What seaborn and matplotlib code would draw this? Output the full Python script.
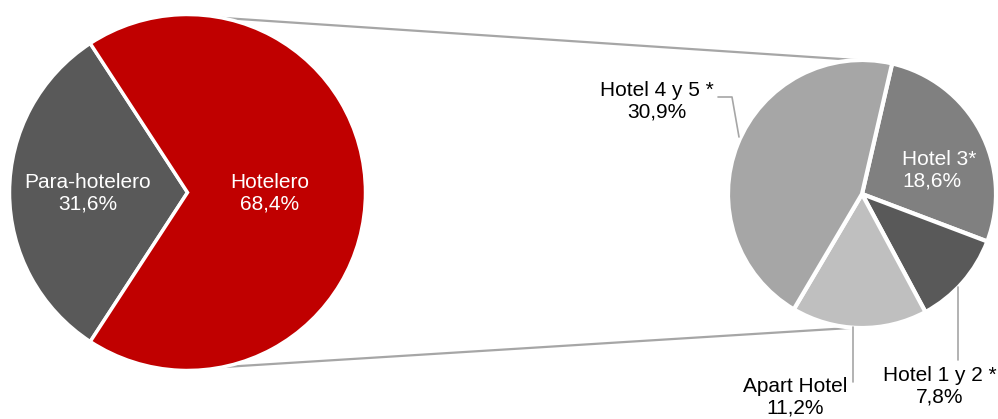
import numpy as np
import matplotlib
matplotlib.use("Agg")
import matplotlib.pyplot as plt
import seaborn as sns

# data
main_labels = ["Para-hotelero", "Hotelero"]
main_values = [31.6, 68.4]
main_colors = ["#595959", "#c00000"]

sub_labels = ["Hotel 3*", "Hotel 1 y 2 *", "Apart Hotel", "Hotel 4 y 5 *"]
sub_values = [18.6, 7.8, 11.2, 30.9]
sub_colors = ["#808080", "#595959", "#bfbfbf", "#a6a6a6"]

sns.set_style("white")
plt.rcParams['font.family'] = ['Liberation Sans', 'DejaVu Sans']

FS = 15
LS = 1.18

def pct(v):
    return f"{v:.1f}%".replace(".", ",")

fig = plt.figure(figsize=(9.98, 4.19), dpi=100)
ax = fig.add_axes([0, 0, 1, 1])

# left pie
c1, r1 = (187.5, 226.5), 178
start1 = 180 - main_values[0] / 100 * 360 / 2
w1, _ = ax.pie(main_values, colors=main_colors, center=c1, radius=r1,
               startangle=start1, counterclock=True,
               wedgeprops=dict(edgecolor="white", linewidth=2.5), frame=True)
for w, lab, v, d in zip(w1, main_labels, main_values, [0.56, 0.46]):
    mid = np.deg2rad((w.theta1 + w.theta2) / 2)
    ax.text(c1[0] + d * r1 * np.cos(mid), c1[1] - 1 + d * r1 * np.sin(mid),
            f"{lab}\n{pct(v)}", ha="center", va="center", color="white",
            fontsize=FS, linespacing=LS)

# right pie
c2, r2 = (862, 225), 134
w2, _ = ax.pie(sub_values, colors=sub_colors, center=c2, radius=r2,
               startangle=77, counterclock=False,
               wedgeprops=dict(edgecolor="white", linewidth=3), frame=True)
ax.set_xlim(0, 998)
ax.set_ylim(0, 419)
ax.set_aspect("equal")
ax.axis("off")

gray = "#a6a6a6"
# connector lines between the pies
for a1, a2 in [(78.8, 92.0), (-78.8, -93.5)]:
    p1 = (c1[0] + r1 * np.cos(np.deg2rad(a1)), c1[1] + r1 * np.sin(np.deg2rad(a1)))
    p2 = (c2[0] + r2 * np.cos(np.deg2rad(a2)), c2[1] + r2 * np.sin(np.deg2rad(a2)))
    ax.plot([p1[0], p2[0]], [p1[1], p2[1]], color=gray, lw=1.6, zorder=0)

# labels for the sub pie
ax.text(902, 249, f"{sub_labels[0]}\n{pct(sub_values[0])}", ha="left", va="center",
        color="white", fontsize=FS, linespacing=LS)

ax.text(657, 318, f"{sub_labels[3]}\n{pct(sub_values[3])}", ha="center", va="center",
        color="black", fontsize=FS, linespacing=LS)
ax.plot([718, 732, 739], [322, 322, 282], color=gray, lw=1.2)

ax.text(940, 33, f"{sub_labels[1]}\n{pct(sub_values[1])}", ha="center", va="center",
        color="black", fontsize=FS, linespacing=LS)
ax.plot([958, 958], [132, 59], color=gray, lw=1.2)

ax.text(795, 22, f"{sub_labels[2]}\n{pct(sub_values[2])}", ha="center", va="center",
        color="black", fontsize=FS, linespacing=LS)
ax.plot([853, 853], [92, 37], color=gray, lw=1.2)

fig.savefig("out.png", dpi=100, facecolor="white")
